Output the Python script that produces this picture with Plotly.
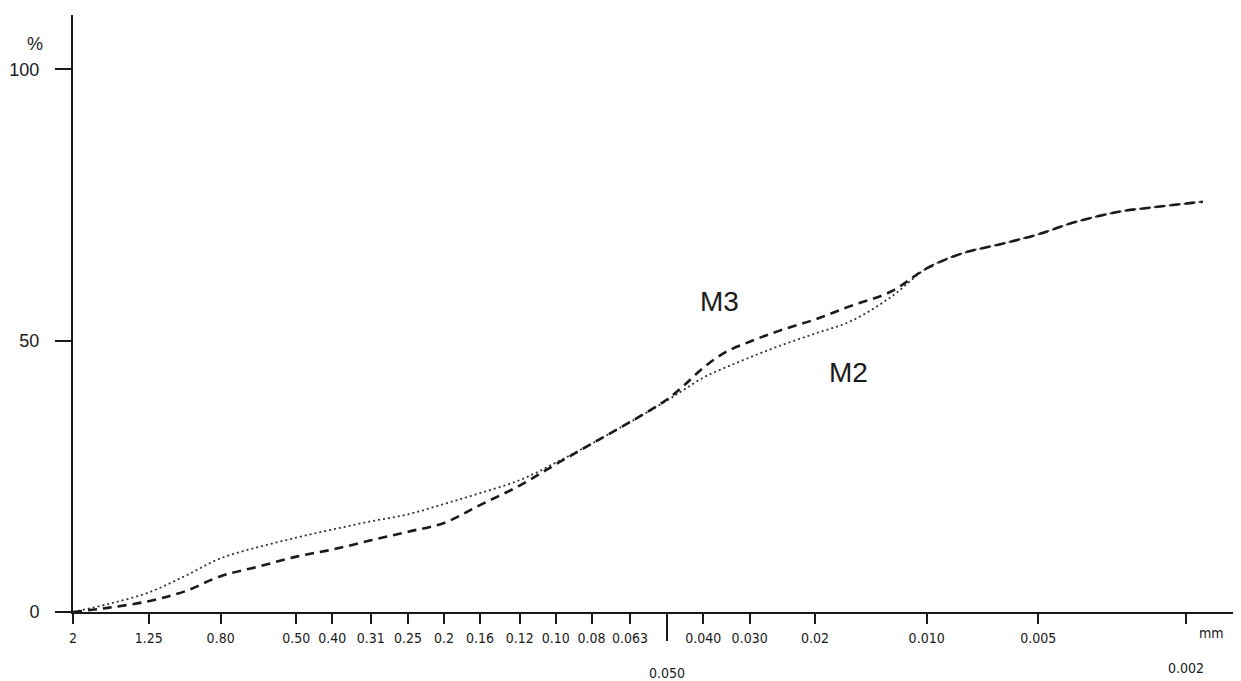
import plotly.graph_objects as go
import math

# particle size (mm) and cumulative percentage passing
sizes = [2, 1.6, 1.25, 1.0, 0.80, 0.63, 0.50, 0.40, 0.315, 0.25, 0.20, 0.16, 0.125,
         0.10, 0.08, 0.063, 0.050, 0.045, 0.040, 0.035, 0.030, 0.025, 0.020, 0.016,
         0.0125, 0.010, 0.008, 0.0063, 0.005, 0.004, 0.003, 0.0025, 0.0018]
m2 = [0, 1.5, 3.6, 6.6, 9.9, 12.0, 13.7, 15.2, 16.7, 18.0, 19.9, 21.9, 24.3,
      27.5, 31.0, 35.0, 39.0, 41.0, 43.2, 45.0, 46.9, 49.0, 51.3, 53.6,
      58.0, 63.3, 66.1, 67.8, 69.6, 71.8, 73.8, 74.5, 75.6]
m3 = [0, 0.8, 2.0, 3.8, 6.6, 8.4, 10.2, 11.5, 13.2, 14.8, 16.4, 19.7, 23.3,
      27.2, 31.0, 35.0, 39.2, 41.8, 45.0, 47.8, 49.8, 51.8, 53.9, 56.4,
      59.0, 63.3, 66.1, 67.8, 69.6, 71.8, 73.8, 74.5, 75.6]

tick_vals = [2, 1.25, 0.8, 0.5, 0.4, 0.315, 0.25, 0.2, 0.16, 0.125, 0.1, 0.08, 0.063,
             0.05, 0.04, 0.03, 0.02, 0.01, 0.005, 0.002]
tick_text = ["2", "1.25", "0.80", "0.50", "0.40", "0.31", "0.25", "0.2", "0.16", "0.12",
             "0.10", "0.08", "0.063", "", "0.040", "0.030", "0.02", "0.010", "0.005", ""]
low_labels = [(0.05, "0.050", 673), (0.002, "0.002", 668)]

y_ticks = [0, 50, 100]

ink = "#1a1a1a"
tick_font = dict(family="Liberation Sans Narrow, DejaVu Sans Condensed, sans-serif",
                 size=14, color=ink)
main_font = "Liberation Sans, Arial, sans-serif"

fig = go.Figure()
fig.add_trace(go.Scatter(x=sizes, y=m2, mode="lines", name="M2",
                         line=dict(color="#333333", width=1.8, dash="2px,3px", shape="spline"),
                         showlegend=False))
fig.add_trace(go.Scatter(x=sizes, y=m3, mode="lines", name="M3",
                         line=dict(color=ink, width=2.6, dash="9px,6px", shape="spline"),
                         showlegend=False))
# invisible trace on second axis for the long 0.050 tick
fig.add_trace(go.Scatter(x=[0.05], y=[0], xaxis="x2", mode="markers",
                         marker=dict(opacity=0), showlegend=False, hoverinfo="skip"))

OFF = 8  # page body margin
W, H = 1241 - OFF, 681 - OFF
L, R, T, B = 73 - OFF, 1, 15 - OFF, 681 - 612
xr = [math.log10(2), math.log10(0.00143)]

fig.update_layout(
    width=W, height=H,
    margin=dict(l=L, r=R, t=T, b=B),
    paper_bgcolor="white", plot_bgcolor="white",
    xaxis=dict(type="log", range=xr, tickvals=tick_vals, ticktext=tick_text,
               ticks="outside", ticklen=10, tickwidth=1.6, tickcolor=ink,
               showline=True, linecolor=ink, linewidth=2, showgrid=False, zeroline=False,
               tickfont=tick_font, ticklabelstandoff=2),
    xaxis2=dict(type="log", range=xr, overlaying="x", side="bottom", anchor="y",
                tickvals=[0.05], ticktext=[""], ticks="outside", ticklen=28, tickwidth=1.6,
                tickcolor=ink, showline=False, showgrid=False, zeroline=False),
    yaxis=dict(range=[0, 110], tickvals=y_ticks, ticks="outside", ticklen=16, tickwidth=1.6,
               tickcolor=ink, showline=True, linecolor=ink, linewidth=2, showgrid=False,
               zeroline=False, ticklabelstandoff=12,
               tickfont=dict(family=main_font, size=18, color=ink)),
)

pw = W - L - R
ph = H - T - B


def px_x(px):
    return (px - OFF - L) / pw


def px_y(py):
    return (H - B - (py - OFF)) / ph


for val, txt, py in low_labels:
    fig.add_annotation(x=math.log10(val), xref="x", y=px_y(py), yref="paper",
                       text=txt, showarrow=False, font=tick_font, xanchor="center", yanchor="middle")

fig.add_annotation(x=px_x(1226), xref="paper", y=px_y(633), yref="paper",
                   text="mm", showarrow=False, font=tick_font, xanchor="right", yanchor="middle")
fig.add_annotation(x=px_x(35), xref="paper", y=px_y(44), yref="paper",
                   text="%", showarrow=False, xanchor="center", yanchor="middle",
                   font=dict(family=main_font, size=18, color=ink))
fig.add_annotation(x=px_x(719), xref="paper", y=px_y(301), yref="paper",
                   text="M3", showarrow=False, xanchor="center", yanchor="middle",
                   font=dict(family=main_font, size=28, color=ink))
fig.add_annotation(x=px_x(848), xref="paper", y=px_y(372), yref="paper",
                   text="M2", showarrow=False, xanchor="center", yanchor="middle",
                   font=dict(family=main_font, size=28, color=ink))

fig.write_html("out.html")
